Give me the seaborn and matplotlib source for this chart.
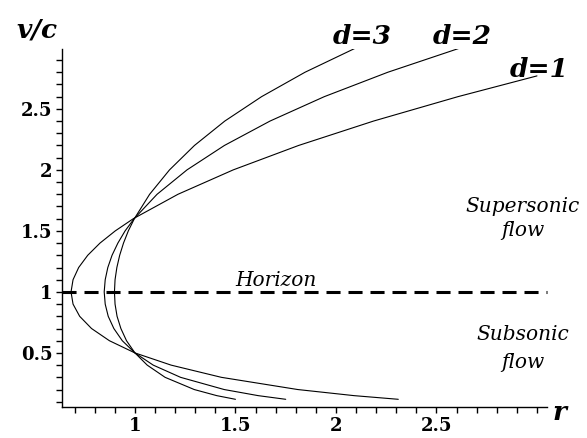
import pandas as pd
import matplotlib
matplotlib.use("Agg")
import matplotlib.pyplot as plt
import seaborn as sns
from matplotlib.ticker import MultipleLocator

# ---------------------------
# DATA (lower end -> upper end of each curve)
# ---------------------------
d1_v = [0.12, 0.15, 0.2, 0.3, 0.4, 0.5, 0.6, 0.7, 0.8, 0.9, 1.0, 1.1, 1.2,
        1.3, 1.4, 1.5, 1.6, 1.8, 2.0, 2.2, 2.4, 2.6, 2.77]
d1_r = [2.31, 2.09, 1.81, 1.43, 1.18, 1.00, 0.873, 0.784, 0.725, 0.692, 0.682,
        0.692, 0.720, 0.765, 0.826, 0.902, 0.992, 1.214, 1.489, 1.814, 2.187,
        2.607, 3.00]

d2_v = [0.12, 0.15, 0.2, 0.3, 0.4, 0.5, 0.6, 0.7, 0.8, 0.9, 1.0, 1.1, 1.2,
        1.3, 1.4, 1.5, 1.6, 1.8, 2.0, 2.2, 2.4, 2.6, 2.8, 3.0]
d2_r = [1.75, 1.613, 1.444, 1.227, 1.091, 1.00, 0.937, 0.895, 0.867, 0.852,
        0.847, 0.852, 0.865, 0.886, 0.915, 0.951, 0.996, 1.11, 1.259, 1.445,
        1.672, 1.942, 2.258, 2.62]

d3_v = [0.12, 0.15, 0.2, 0.3, 0.4, 0.5, 0.6, 0.7, 0.8, 0.9, 1.0, 1.1, 1.2,
        1.3, 1.4, 1.5, 1.6, 1.8, 2.0, 2.2, 2.4, 2.6, 2.8, 3.0]
d3_r = [1.50, 1.407, 1.295, 1.150, 1.061, 1.00, 0.958, 0.930, 0.911, 0.901,
        0.898, 0.901, 0.910, 0.924, 0.943, 0.967, 0.997, 1.073, 1.172, 1.296,
        1.447, 1.630, 1.846, 2.10]

horizon_v = 1.0
x_ticks = [1, 1.5, 2, 2.5]
y_ticks = [0.5, 1, 1.5, 2, 2.5]
x_tick_labels = ["1", "1.5", "2", "2.5"]
y_tick_labels = ["0.5", "1", "1.5", "2", "2.5"]


def main():
    sns.set_style("ticks")
    plt.rcParams["font.family"] = ["DejaVu Serif"]
    plt.rcParams["text.color"] = "black"
    plt.rcParams["xtick.color"] = "black"
    plt.rcParams["ytick.color"] = "black"

    frames = []
    for name, r, v in [("d=1", d1_r, d1_v), ("d=2", d2_r, d2_v), ("d=3", d3_r, d3_v)]:
        frames.append(pd.DataFrame({"r": r, "v": v, "d": name}))
    df = pd.concat(frames, ignore_index=True)

    fig = plt.figure(figsize=(5.87, 4.38), dpi=100)
    ax = fig.add_axes([0.1056, 0.0708, 0.8263, 0.8172])

    sns.lineplot(data=df, x="r", y="v", units="d", estimator=None, sort=False,
                 color="black", lw=0.8, ax=ax, legend=False)

    # sonic horizon
    ax.axhline(horizon_v, color="black", lw=2.2, ls=(0, (4.6, 2.6)), clip_on=False)

    ax.set_xlim(0.637, 3.05)
    ax.set_ylim(0.057, 2.99)
    ax.set_xlabel("")
    ax.set_ylabel("")
    sns.despine(ax=ax)
    for s in ["left", "bottom"]:
        ax.spines[s].set_linewidth(1.0)
        ax.spines[s].set_color("black")

    ax.set_xticks(x_ticks)
    ax.set_xticklabels(x_tick_labels)
    ax.set_yticks(y_ticks)
    ax.set_yticklabels(y_tick_labels)
    ax.xaxis.set_minor_locator(MultipleLocator(0.1))
    ax.yaxis.set_minor_locator(MultipleLocator(0.1))
    ax.tick_params(which="both", direction="out", length=4, width=1,
                   color="black", labelcolor="black")
    ax.tick_params(labelsize=13, pad=3)
    for lab in ax.get_xticklabels() + ax.get_yticklabels():
        lab.set_fontweight("bold")

    # curve and axis labels
    big = dict(fontsize=19, fontweight="bold", style="italic", ha="center",
               va="center", color="black")
    ax.text(2.13, 3.09, "d=3", clip_on=False, **big)
    ax.text(2.63, 3.09, "d=2", clip_on=False, **big)
    ax.text(3.01, 2.82, "d=1", clip_on=False, **big)
    ax.text(0.51, 3.15, "v/c", clip_on=False, **big)
    ax.text(3.11, 0.01, "r", clip_on=False, **big)

    small = dict(fontsize=14.5, style="italic", ha="center", va="center", color="black")
    ax.text(1.70, 1.09, "Horizon", **small)
    ax.text(2.93, 1.70, "Supersonic", clip_on=False, **small)
    ax.text(2.93, 1.50, "flow", clip_on=False, **small)
    ax.text(2.93, 0.65, "Subsonic", clip_on=False, **small)
    ax.text(2.93, 0.42, "flow", clip_on=False, **small)

    fig.savefig("out.png", dpi=100)


if __name__ == "__main__":
    main()
